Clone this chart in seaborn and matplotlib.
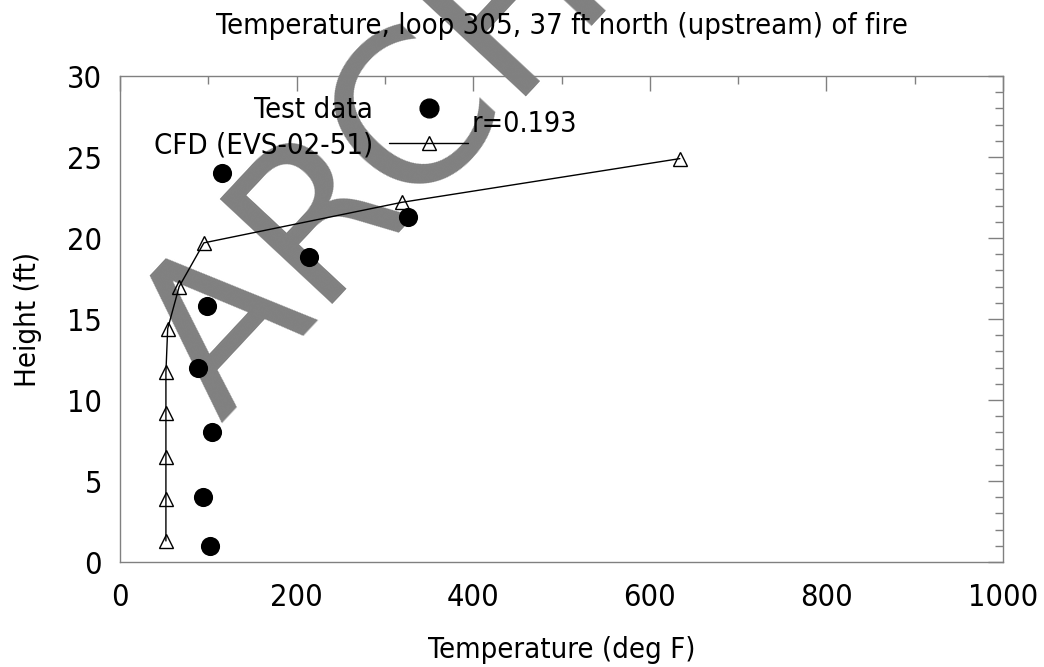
import matplotlib
matplotlib.use("Agg")
import matplotlib.pyplot as plt
from matplotlib.ticker import MultipleLocator
from matplotlib.lines import Line2D
import seaborn as sns
import pandas as pd

# ---- data ----
test_temp = [115, 326, 214, 98, 88, 104, 94, 102]
test_height = [24.0, 21.3, 18.8, 15.8, 12.0, 8.0, 4.0, 1.0]

cfd_temp = [52, 52, 52, 52, 52, 54, 67, 95, 319, 634]
cfd_height = [1.3, 3.9, 6.5, 9.2, 11.7, 14.4, 17.0, 19.7, 22.2, 24.9]

x_ticks = [0, 200, 400, 600, 800, 1000]
y_ticks = [0, 5, 10, 15, 20, 25, 30]

title = "Temperature, loop 305, 37 ft north (upstream) of fire"
x_label = "Temperature (deg F)"
y_label = "Height (ft)"
test_label = "Test data"
cfd_label = "CFD (EVS-02-51)"
r_text = "r=0.193"
watermark = "ARCHIVE"

test_df = pd.DataFrame({"temp": test_temp, "height": test_height})
cfd_df = pd.DataFrame({"temp": cfd_temp, "height": cfd_height})

sns.set_theme(style="white")
plt.rcParams["font.family"] = ["DejaVu Sans"]
plt.rcParams["font.stretch"] = "condensed"
for k in ["text.color", "axes.labelcolor", "xtick.labelcolor", "ytick.labelcolor"]:
    plt.rcParams[k] = "black"

W, H = 1044, 667
fig = plt.figure(figsize=(W / 100, H / 100), dpi=100)
fig.patch.set_facecolor("white")

L, R, T, B = 120, 1003, 76, 562
ax = fig.add_axes([L / W, 1 - B / H, (R - L) / W, (B - T) / H])
ax.set_facecolor("none")

grey = "#808080"

# watermark (behind the axes content)
fig.text(220 / W, 1 - 423 / H, watermark, rotation=47, rotation_mode="anchor",
         ha="left", va="baseline", fontsize=152, color=grey,
         family="DejaVu Sans", fontstretch="normal", zorder=-5)

sns.lineplot(data=cfd_df, x="temp", y="height", ax=ax, sort=False, estimator=None,
             color="black", linewidth=1.0, marker="^", markersize=10,
             markerfacecolor="none", markeredgecolor="black", markeredgewidth=1.0,
             legend=False)
sns.scatterplot(data=test_df, x="temp", y="height", ax=ax, color="black",
                s=190, edgecolor="black", linewidth=0, legend=False, zorder=3)

ax.set_xlim(0, 1000)
ax.set_ylim(0, 30)
ax.set_xticks(x_ticks)
ax.set_yticks(y_ticks)
ax.xaxis.set_minor_locator(MultipleLocator(100))
ax.yaxis.set_minor_locator(MultipleLocator(1))
ax.tick_params(which="both", direction="in", top=True, right=True, color=grey,
               labelcolor="black", width=1.0)
ax.tick_params(which="major", length=11)
ax.tick_params(which="minor", length=6)
ax.tick_params(axis="x", which="major", labelsize=22, pad=15)
ax.tick_params(axis="y", which="major", labelsize=22, pad=13)
for sp in ax.spines.values():
    sp.set_color(grey)
    sp.set_linewidth(1.0)
    sp.set_visible(True)

ax.set_title(title, fontsize=21, pad=30, color="black")
ax.set_xlabel(x_label, fontsize=21, color="black")
ax.set_ylabel(y_label, fontsize=21, color="black")
ax.xaxis.set_label_coords(0.5, -0.152)
ax.yaxis.set_label_coords(-0.088, 0.5)

# legend (gnuplot-style: text right-aligned, sample to the right)
h_test = Line2D([], [], linestyle="none", marker="o", markersize=13.5,
                color="black")
h_cfd = Line2D([], [], color="black", linewidth=1.0, marker="^", markersize=10,
               markerfacecolor="none", markeredgecolor="black")
leg = ax.legend([h_test, h_cfd], [test_label, cfd_label], markerfirst=False,
                frameon=False, fontsize=21, handlelength=2.7, handletextpad=0.55,
                labelspacing=0.25, borderpad=0, borderaxespad=0, numpoints=1,
                loc="upper right",
                bbox_to_anchor=(468 / W, 1 - 96 / H), bbox_transform=fig.transFigure)
for t in leg.get_texts():
    t.set_color("black")

ax.text(398, 27.05, r_text, fontsize=20.5, ha="left", va="center", color="black")

fig.savefig("out.png", dpi=100, facecolor="white")
